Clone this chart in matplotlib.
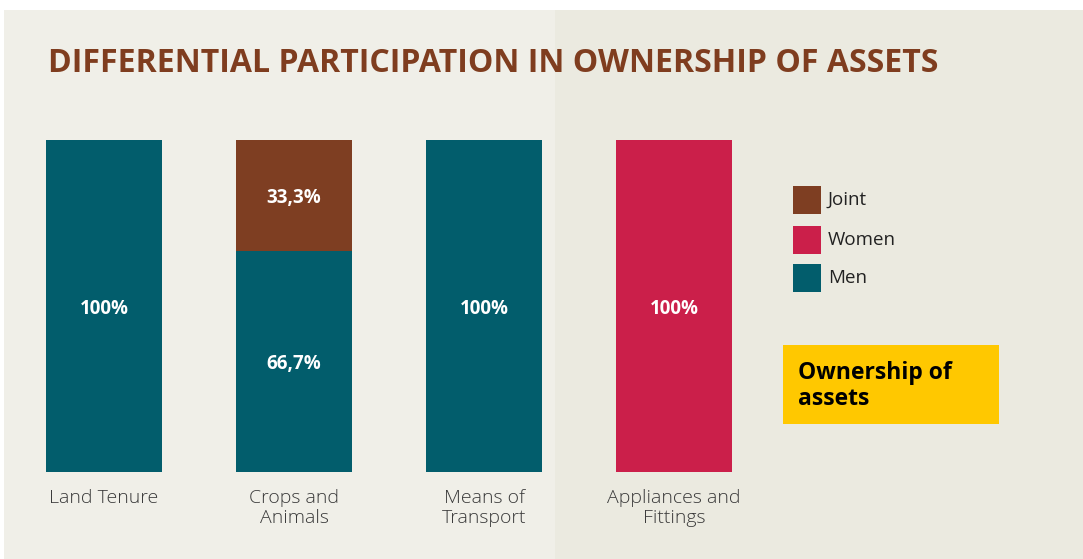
import matplotlib
matplotlib.use("Agg")
from matplotlib import pyplot as plt
from matplotlib.patches import Rectangle
import numpy as np

# data
categories = ["Land Tenure", "Crops and\nAnimals", "Means of\nTransport", "Appliances and\nFittings"]
men = [100, 66.7, 100, 0]
women = [0, 0, 0, 100]
joint = [0, 33.3, 0, 0]

MEN = "#025d6c"
WOMEN = "#cb1f4a"
JOINT = "#7e3e22"
BROWN_TITLE = "#7f3d1f"
YELLOW = "#ffc800"

W, H = 1083, 559
fig = plt.figure(figsize=(W / 100, H / 100), dpi=100)
fig.patch.set_facecolor("white")
plt.rcParams["font.family"] = ["Open Sans", "DejaVu Sans"]


def fx(px):
    return px / W


def fy(py):
    # py measured from top of the image
    return 1 - py / H


# background panels
fig.patches.append(Rectangle((fx(4), 0), fx(555 - 4), fy(10), transform=fig.transFigure,
                             facecolor="#f0efe8", edgecolor="none", zorder=-2))
fig.patches.append(Rectangle((fx(555), 0), fx(W - 555), fy(10), transform=fig.transFigure,
                             facecolor="#ebeae0", edgecolor="none", zorder=-2))

fig.text(fx(48), fy(72), "DIFFERENTIAL PARTICIPATION IN OWNERSHIP OF ASSETS",
         color=BROWN_TITLE, fontsize=23, fontweight="bold", va="baseline", ha="left")

# axes: x from -0.5..3.5 -> px 9..769, y 0..100 -> px 472..140
ax = fig.add_axes([fx(9), fy(472), fx(760), (472 - 140) / H])
ax.set_zorder(2)
ax.patch.set_visible(False)
ax.set_xlim(-0.5, 3.5)
ax.set_ylim(0, 100)
ax.axis("off")

x = np.arange(len(categories))
bw = 116 / 190
men = np.array(men)
women = np.array(women)
joint = np.array(joint)

b1 = ax.bar(x, men, bw, color=MEN)
b2 = ax.bar(x, women, bw, bottom=men, color=WOMEN)
b3 = ax.bar(x, joint, bw, bottom=men + women, color=JOINT)


def fmt(v):
    if v == 0:
        return ""
    if v == 100:
        return "100%"
    return f"{v:.1f}".replace(".", ",") + "%"


for bars, vals in [(b1, men), (b2, women), (b3, joint)]:
    labs = ax.bar_label(bars, labels=[fmt(v) for v in vals], label_type="center",
                        color="white", fontsize=13.5, fontweight="bold")
    for t in labs:
        t.set_va("center_baseline")

for xi, c in zip(x, categories):
    ax.text(xi, -5.2, c, ha="center", va="top", fontsize=14, fontweight="light",
            color="#3a3a3a", linespacing=1.12, clip_on=False)

# legend
leg = [("Joint", JOINT, 186), ("Women", WOMEN, 226), ("Men", MEN, 264)]
for name, col, top in leg:
    fig.patches.append(Rectangle((fx(793), fy(top + 28)), fx(28), 28 / H,
                                 transform=fig.transFigure, facecolor=col, edgecolor="none"))
    fig.text(fx(828), fy(top + 14), name, fontsize=13.5, color="#222222", va="center", ha="left")

# yellow box
fig.patches.append(Rectangle((fx(783), fy(424)), fx(999 - 783), (424 - 345) / H,
                             transform=fig.transFigure, facecolor=YELLOW, edgecolor="none"))
fig.text(fx(798), fy(386), "Ownership of\nassets", fontsize=16.5, fontweight="bold",
         color="black", va="center", ha="left", linespacing=1.15)

fig.savefig("out.png", dpi=100)
